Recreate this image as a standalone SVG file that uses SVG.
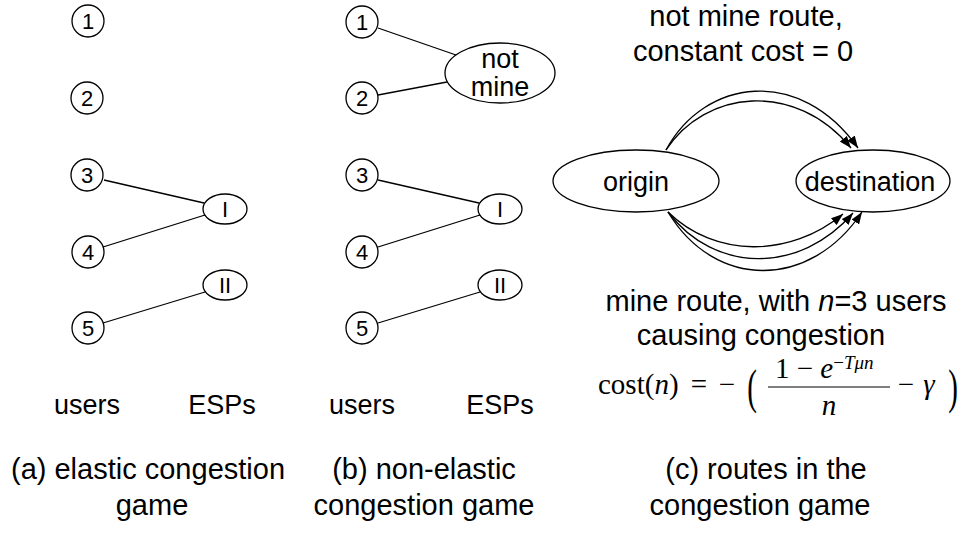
<svg xmlns="http://www.w3.org/2000/svg" width="967" height="536" viewBox="0 0 967 536">
<defs>
<style>
.n{fill:#fff;stroke:#000;stroke-width:1.3}
.e{stroke:#000;stroke-width:1.3;fill:none}
.d{font-family:"Liberation Sans",Arial,sans-serif;font-size:22px;text-anchor:middle;fill:#000}
.l{font-family:"Liberation Sans",Arial,sans-serif;font-size:27px;text-anchor:middle;fill:#000}
.c{font-family:"Liberation Sans",Arial,sans-serif;font-size:29px;text-anchor:middle;fill:#000}
.m{font-family:"Liberation Serif","Times New Roman",serif;font-size:29px;fill:#000}
</style>
<marker id="ah" markerWidth="13" markerHeight="9" refX="12" refY="4.5" orient="auto" markerUnits="userSpaceOnUse">
<path d="M0,0 L12,4.5 L0,9 z" fill="#000"/>
</marker>
</defs>
<rect width="967" height="536" fill="#fff"/>

<g id="connectors">
<line class="e" x1="104" y1="180" x2="204" y2="203"/>
<line class="e" x1="103" y1="247" x2="205" y2="215"/>
<line class="e" x1="103" y1="323" x2="205" y2="292"/>
<line class="e" x1="378" y1="28" x2="456" y2="55"/>
<line class="e" x1="378" y1="95" x2="447" y2="82"/>
<line class="e" x1="378" y1="180" x2="479" y2="203"/>
<line class="e" x1="378" y1="247" x2="480" y2="215"/>
<line class="e" x1="378" y1="323" x2="480" y2="292"/>
<path class="e" marker-end="url(#ah)" d="M666,150 C705,78 800,66 858,148"/>
<path class="e" marker-end="url(#ah)" d="M666,150 C705,90 795,80 851,148"/>
<path class="e" marker-end="url(#ah)" d="M668,212 C715,258 790,258 843,214"/>
<path class="e" marker-end="url(#ah)" d="M668,212 C715,274 800,274 853,213"/>
<path class="e" marker-end="url(#ah)" d="M668,212 C715,290 810,290 862,212"/>
</g>

<g id="a-u1"><circle class="n" cx="88" cy="21" r="16"/><text class="d" x="88" y="29">1</text></g>
<g id="a-u2"><circle class="n" cx="87" cy="98" r="16"/><text class="d" x="87" y="106">2</text></g>
<g id="a-u3"><circle class="n" cx="87" cy="175" r="16"/><text class="d" x="87" y="183">3</text></g>
<g id="a-u4"><circle class="n" cx="88" cy="252" r="16"/><text class="d" x="88" y="260">4</text></g>
<g id="a-u5"><circle class="n" cx="88" cy="328" r="16"/><text class="d" x="88" y="336">5</text></g>
<g id="a-esp1"><ellipse class="n" cx="225" cy="209" rx="22" ry="15"/><text class="d" x="225" y="217">I</text></g>
<g id="a-esp2"><ellipse class="n" cx="225" cy="285" rx="22" ry="15"/><text class="d" x="225" y="293">II</text></g>

<g id="b-u1"><circle class="n" cx="362" cy="22" r="16"/><text class="d" x="362" y="30">1</text></g>
<g id="b-u2"><circle class="n" cx="362" cy="98" r="16"/><text class="d" x="362" y="106">2</text></g>
<g id="b-u3"><circle class="n" cx="362" cy="175" r="16"/><text class="d" x="362" y="183">3</text></g>
<g id="b-u4"><circle class="n" cx="362" cy="252" r="16"/><text class="d" x="362" y="260">4</text></g>
<g id="b-u5"><circle class="n" cx="362" cy="328" r="16"/><text class="d" x="362" y="336">5</text></g>
<g id="b-notmine"><ellipse class="n" cx="500" cy="73" rx="55" ry="30"/><text class="l" x="500" y="68" font-size="26">not</text><text class="l" x="500" y="96" font-size="26">mine</text></g>
<g id="b-esp1"><ellipse class="n" cx="500" cy="209" rx="22" ry="15"/><text class="d" x="500" y="217">I</text></g>
<g id="b-esp2"><ellipse class="n" cx="500" cy="285" rx="22" ry="15"/><text class="d" x="500" y="293">II</text></g>

<g id="c-origin"><ellipse class="n" cx="636" cy="181" rx="83" ry="31"/><text class="l" x="636" y="191">origin</text></g>
<g id="c-destination"><ellipse class="n" cx="873" cy="181" rx="77" ry="31"/><text class="l" x="870" y="191">destination</text></g>

<g id="labels">
<text class="l" x="87" y="414">users</text>
<text class="l" x="222" y="414">ESPs</text>
<text class="l" x="362" y="414">users</text>
<text class="l" x="500" y="414">ESPs</text>
<text class="c" x="148" y="479">(a) elastic congestion</text>
<text class="c" x="152" y="515">game</text>
<text class="c" x="424" y="479">(b) non-elastic</text>
<text class="c" x="424" y="515">congestion game</text>
<text class="c" x="766" y="479">(c) routes in the</text>
<text class="c" x="760" y="515">congestion game</text>
<text class="c" x="746" y="26">not mine route,</text>
<text class="c" x="743" y="61">constant cost = 0</text>
<text class="c" x="776" y="311">mine route, with <tspan font-style="italic">n</tspan>=3 users</text>
<text class="c" x="761" y="345">causing congestion</text>
</g>

<g id="formula">
<text class="m" x="598" y="394">cost(<tspan font-style="italic">n</tspan>)</text>
<text class="m" x="699" y="394" text-anchor="middle">=</text>
<text class="m" x="727" y="394" text-anchor="middle">−</text>
<text class="m" transform="translate(752,403) scale(1,1.7)" text-anchor="middle" font-size="44">(</text>
<text class="m" x="775" y="378">1 − <tspan font-style="italic">e</tspan><tspan font-size="19" dy="-9">−<tspan font-style="italic">Tμn</tspan></tspan></text>
<line x1="768" y1="387" x2="890" y2="387" stroke="#000" stroke-width="1.2"/>
<text class="m" x="829" y="415" text-anchor="middle" font-style="italic">n</text>
<text class="m" x="906" y="394" text-anchor="middle">−</text>
<text class="m" x="929" y="394" text-anchor="middle" font-style="italic">γ</text>
<text class="m" transform="translate(953,403) scale(1,1.7)" text-anchor="middle" font-size="44">)</text>
</g>
</svg>
